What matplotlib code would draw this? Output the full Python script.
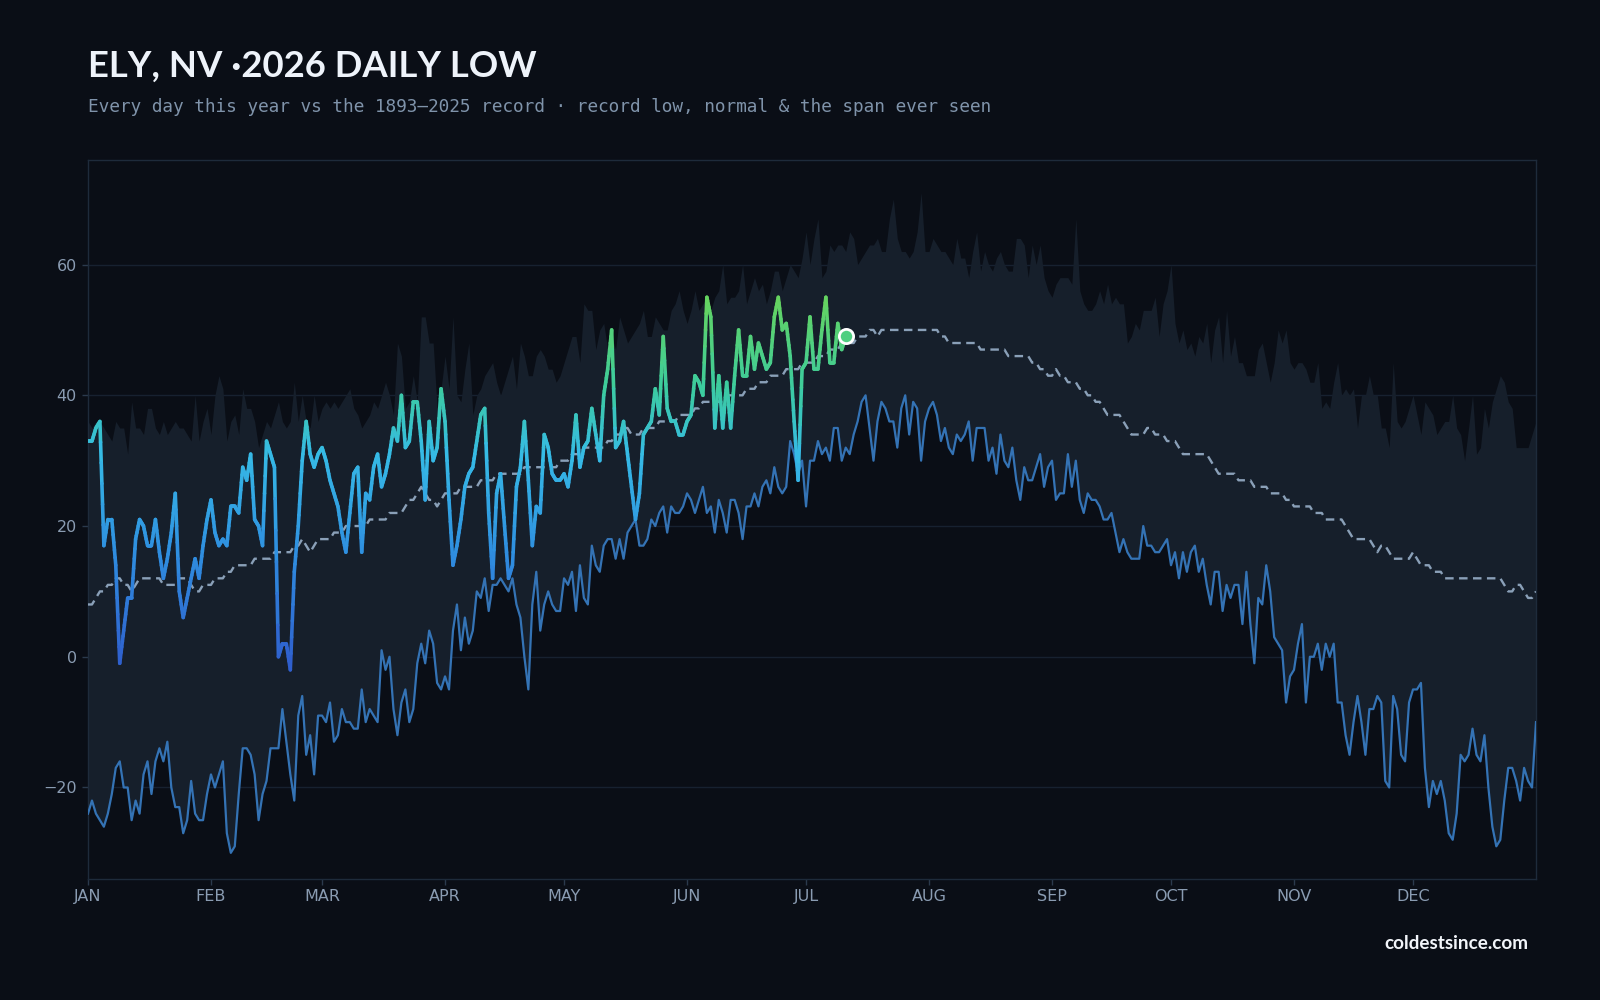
import numpy as np
import matplotlib
matplotlib.use("Agg")
import matplotlib.pyplot as plt
from matplotlib.collections import LineCollection
from matplotlib.colors import LinearSegmentedColormap, Normalize

# ---------------- data (°F) ----------------
record_low = [
    -24, -22, -24, -25, -26, -24, -21, -17, -16, -20,
    -20, -25, -22, -24, -18, -16, -21, -16, -14, -16,
    -13, -20, -23, -23, -27, -25, -19, -24, -25, -25,
    -21, -18, -20, -18, -16, -27, -30, -29, -21, -14,
    -14, -15, -18, -25, -21, -19, -14, -14, -14, -8,
    -13, -18, -22, -9, -6, -15, -12, -18, -9, -9,
    -10, -7, -13, -12, -8, -10, -10, -11, -11, -5,
    -10, -8, -9, -10, 1, -2, 0, -8, -12, -7,
    -5, -10, -8, -1, 2, -1, 4, 2, -4, -5,
    -3, -5, 4, 8, 1, 6, 2, 4, 10, 9,
    12, 7, 11, 11, 12, 11, 10, 12, 8, 6,
    0, -5, 8, 13, 4, 8, 10, 8, 7, 7,
    12, 11, 13, 7, 14, 9, 8, 17, 14, 13,
    17, 18, 18, 15, 18, 15, 19, 20, 21, 17,
    17, 18, 21, 20, 22, 23, 19, 23, 22, 22,
    23, 25, 24, 22, 24, 26, 22, 23, 19, 24,
    22, 19, 24, 24, 22, 18, 23, 23, 25, 23,
    26, 27, 25, 29, 26, 25, 26, 33, 31, 28,
    30, 23, 30, 30, 33, 31, 32, 30, 35, 35,
    30, 32, 31, 34, 36, 39, 40, 35, 30, 36,
    39, 38, 36, 36, 32, 38, 40, 34, 39, 38,
    30, 36, 38, 39, 37, 33, 35, 32, 31, 34,
    33, 34, 36, 30, 35, 35, 35, 30, 32, 28,
    34, 30, 29, 32, 27, 24, 29, 27, 27, 29,
    31, 26, 29, 30, 24, 25, 25, 31, 26, 30,
    24, 22, 25, 24, 24, 23, 21, 21, 22, 19,
    16, 18, 16, 15, 15, 15, 20, 17, 17, 16,
    16, 17, 18, 14, 16, 12, 16, 13, 16, 17,
    13, 15, 11, 8, 13, 13, 7, 11, 9, 11,
    11, 5, 13, 5, -1, 9, 8, 14, 10, 3,
    2, 1, -7, -3, -2, 2, 5, -7, 0, 0,
    2, -2, 2, 0, 2, -7, -7, -12, -15, -10,
    -6, -10, -15, -8, -8, -6, -7, -19, -20, -6,
    -8, -15, -16, -7, -5, -5, -4, -17, -23, -19,
    -21, -19, -22, -27, -28, -24, -15, -16, -15, -11,
    -15, -16, -12, -20, -26, -29, -28, -22, -17, -17,
    -19, -22, -17, -19, -20, -10,
]

record_high = [
    36, 35, 36, 36, 35, 34, 33, 36, 35, 35,
    31, 39, 35, 35, 34, 38, 38, 35, 34, 36,
    34, 35, 36, 35, 35, 34, 33, 40, 33, 36,
    38, 34, 40, 43, 41, 33, 36, 37, 34, 41,
    38, 38, 36, 32, 34, 36, 35, 37, 39, 36,
    35, 36, 42, 36, 40, 36, 35, 40, 36, 38,
    39, 38, 39, 38, 39, 40, 41, 38, 37, 35,
    36, 37, 39, 38, 40, 42, 40, 37, 48, 46,
    38, 39, 43, 39, 52, 52, 48, 48, 38, 41,
    46, 41, 52, 40, 39, 44, 48, 37, 40, 41,
    43, 44, 45, 42, 40, 42, 44, 46, 41, 48,
    46, 43, 43, 46, 47, 46, 44, 44, 42, 43,
    45, 47, 49, 49, 45, 54, 53, 53, 47, 50,
    51, 47, 49, 47, 52, 50, 48, 49, 50, 51,
    53, 49, 49, 52, 51, 50, 50, 53, 54, 56,
    53, 51, 53, 56, 53, 54, 55, 53, 55, 56,
    60, 54, 55, 55, 56, 60, 54, 56, 58, 56,
    57, 54, 56, 59, 59, 56, 58, 60, 59, 58,
    61, 65, 60, 64, 67, 58, 59, 63, 62, 63,
    63, 62, 65, 64, 60, 61, 62, 63, 63, 64,
    62, 62, 67, 70, 64, 62, 62, 61, 62, 65,
    71, 62, 62, 64, 63, 62, 62, 61, 60, 64,
    61, 61, 58, 62, 65, 59, 62, 60, 59, 61,
    62, 60, 59, 59, 64, 64, 63, 58, 63, 60,
    63, 58, 56, 55, 57, 58, 58, 58, 57, 67,
    56, 54, 53, 53, 54, 56, 54, 57, 54, 55,
    54, 54, 48, 49, 51, 50, 53, 53, 53, 55,
    49, 54, 56, 60, 51, 48, 50, 47, 48, 46,
    49, 48, 51, 45, 50, 52, 45, 53, 46, 49,
    45, 45, 43, 43, 43, 47, 48, 45, 42, 45,
    50, 48, 50, 45, 44, 45, 45, 44, 42, 42,
    45, 38, 39, 38, 42, 45, 40, 41, 40, 41,
    35, 40, 40, 43, 40, 40, 35, 35, 32, 45,
    36, 35, 36, 38, 40, 37, 34, 39, 38, 37,
    34, 35, 36, 36, 40, 35, 34, 30, 35, 40,
    31, 32, 38, 35, 39, 41, 43, 42, 39, 38,
    32, 32, 32, 32, 34, 36,
]

normal = [
    8, 8, 9, 10, 10, 11, 11, 12, 12, 11,
    11, 10, 11, 12, 12, 12, 12, 12, 12, 11,
    11, 11, 11, 12, 12, 12, 11, 10, 10, 11,
    11, 11, 12, 12, 12, 13, 13, 14, 14, 14,
    14, 14, 15, 15, 15, 15, 15, 16, 16, 16,
    16, 16, 17, 17, 18, 17, 16, 17, 18, 18,
    18, 18, 19, 19, 19, 20, 20, 20, 20, 20,
    20, 21, 21, 21, 21, 21, 22, 22, 22, 22,
    23, 24, 24, 25, 26, 25, 24, 24, 23, 24,
    25, 25, 25, 25, 26, 26, 26, 26, 26, 27,
    27, 27, 27, 28, 28, 28, 28, 28, 28, 28,
    29, 29, 29, 29, 29, 29, 29, 29, 29, 30,
    30, 30, 31, 31, 31, 32, 32, 32, 32, 32,
    32, 33, 33, 34, 34, 35, 35, 34, 34, 34,
    35, 35, 35, 35, 36, 36, 36, 36, 36, 37,
    37, 37, 37, 38, 38, 39, 39, 39, 39, 39,
    40, 40, 40, 40, 40, 40, 41, 41, 41, 42,
    42, 42, 43, 43, 43, 43, 44, 44, 44, 44,
    45, 45, 45, 45, 46, 46, 46, 47, 47, 47,
    48, 48, 48, 48, 49, 49, 49, 50, 50, 49,
    50, 50, 50, 50, 50, 50, 50, 50, 50, 50,
    50, 50, 50, 50, 50, 49, 49, 48, 48, 48,
    48, 48, 48, 48, 48, 47, 47, 47, 47, 47,
    47, 47, 46, 46, 46, 46, 46, 46, 45, 45,
    44, 44, 43, 43, 44, 43, 43, 42, 42, 42,
    41, 41, 40, 40, 39, 39, 38, 37, 37, 37,
    37, 36, 35, 34, 34, 34, 34, 35, 35, 34,
    34, 34, 33, 33, 33, 32, 31, 31, 31, 31,
    31, 31, 31, 30, 29, 28, 28, 28, 28, 28,
    27, 27, 27, 27, 26, 26, 26, 26, 25, 25,
    25, 25, 24, 24, 23, 23, 23, 23, 23, 22,
    22, 22, 21, 21, 21, 21, 21, 20, 19, 18,
    18, 18, 18, 18, 17, 16, 17, 17, 16, 15,
    15, 15, 15, 15, 16, 15, 14, 14, 14, 13,
    13, 13, 12, 12, 12, 12, 12, 12, 12, 12,
    12, 12, 12, 12, 12, 12, 12, 11, 10, 10,
    11, 11, 10, 9, 9, 10,
]

year_2026 = [
    33, 33, 35, 36, 17, 21, 21, 14, -1, 4,
    9, 9, 18, 21, 20, 17, 17, 21, 16, 12,
    15, 19, 25, 10, 6, 9, 12, 15, 12, 17,
    21, 24, 19, 17, 18, 17, 23, 23, 22, 29,
    27, 31, 21, 20, 17, 33, 31, 29, 0, 2,
    2, -2, 13, 20, 30, 36, 31, 29, 31, 32,
    30, 27, 25, 23, 19, 16, 22, 28, 29, 16,
    25, 24, 29, 31, 26, 28, 31, 35, 33, 40,
    32, 33, 39, 39, 33, 24, 36, 30, 32, 41,
    36, 24, 14, 17, 21, 26, 28, 29, 33, 37,
    38, 22, 12, 25, 28, 20, 12, 14, 26, 29,
    36, 27, 17, 23, 22, 34, 32, 28, 27, 27,
    28, 26, 30, 37, 29, 32, 33, 38, 34, 30,
    40, 44, 50, 32, 33, 36, 31, 26, 21, 25,
    34, 35, 36, 41, 37, 49, 38, 36, 36, 34,
    34, 36, 37, 43, 42, 40, 55, 52, 35, 43,
    35, 42, 35, 43, 50, 43, 43, 49, 44, 48,
    46, 44, 45, 52, 55, 50, 51, 46, 36, 27,
    44, 45, 52, 44, 44, 50, 55, 45, 45, 51,
    47, 49,
]

month_labels = ["JAN", "FEB", "MAR", "APR", "MAY", "JUN",
                "JUL", "AUG", "SEP", "OCT", "NOV", "DEC"]
month_starts = [0, 31, 59, 90, 120, 151, 181, 212, 243, 273, 304, 334]
y_ticks = [-20, 0, 20, 40, 60]

# ---------------- style ----------------
BG = "#0a0e16"
BAND = "#161f2b"
GRID = "#172130"
SPINE = "#1e2b3b"
TICK = "#8a9cb2"

fig = plt.figure(figsize=(16, 10), dpi=100, facecolor=BG)
ax = fig.add_axes([0.055, 0.121, 0.905, 0.719])
ax.set_facecolor(BG)

days = np.arange(len(record_low))
ax.fill_between(days, record_low, record_high, color=BAND, lw=0, zorder=1)
ax.plot(days, record_low, color="#3473b5", lw=1.6, zorder=3,
        solid_joinstyle="round")
ax.plot(days, normal, color="#8aa0b8", lw=1.7, ls=(0, (3.6, 2.3)), zorder=3)

# 2026 line with colour gradient by temperature
y26 = np.asarray(year_2026, dtype=float)
d26 = np.arange(len(y26))
sub = 6
segs, vals = [], []
for i in range(len(y26) - 1):
    xs = np.linspace(d26[i], d26[i + 1], sub + 1)
    ys = np.linspace(y26[i], y26[i + 1], sub + 1)
    for k in range(sub):
        segs.append([(xs[k], ys[k]), (xs[k + 1], ys[k + 1])])
        vals.append((ys[k] + ys[k + 1]) / 2)
cmap = LinearSegmentedColormap.from_list(
    "t26",
    [(0.0, "#2f5ccc"), (0.32, "#2f8fe0"), (0.58, "#36bbe6"),
     (0.76, "#3ccc9e"), (1.0, "#66d45e")])
lc = LineCollection(segs, cmap=cmap, norm=Normalize(-2, 55),
                    linewidths=2.6, capstyle="round", joinstyle="round",
                    zorder=4)
lc.set_array(np.asarray(vals))
ax.add_collection(lc)
ax.scatter([d26[-1]], [y26[-1]], s=105, color="#4fcf80",
           edgecolor="white", linewidth=2, zorder=5)

ax.set_xlim(0, 365)
ax.set_ylim(-34, 76)
ax.set_xticks(month_starts)
ax.set_xticklabels(month_labels)
ax.set_yticks(y_ticks)
ax.grid(axis="y", color=GRID, lw=1.0, zorder=0)
ax.set_axisbelow(True)
for s in ax.spines.values():
    s.set_color(SPINE)
    s.set_linewidth(1.0)
ax.tick_params(colors=TICK, labelsize=11.5, length=4, width=1,
               color="#2b3a4d")
ax.tick_params(axis="x", pad=3.5)
ax.tick_params(axis="y", pad=4)

fig.text(0.055, 0.923, "ELY, NV \u00b72026 DAILY LOW", fontsize=26.3,
         fontweight="bold", family=["Lato", "DejaVu Sans"],
         color="#eef3fa", va="baseline")
fig.text(0.055, 0.8885,
         "Every day this year vs the 1893\u20132025 record \u00b7 record low, normal & the span ever seen",
         fontsize=12.75, family="DejaVu Sans Mono", color="#7f93aa",
         va="baseline")
fig.text(0.955, 0.051, "coldestsince.com", ha="right", va="baseline",
         fontsize=13.6, fontweight="bold", family=["Lato", "DejaVu Sans"],
         color="#f2f5fa")

fig.savefig("out.png", dpi=100, facecolor=BG)
